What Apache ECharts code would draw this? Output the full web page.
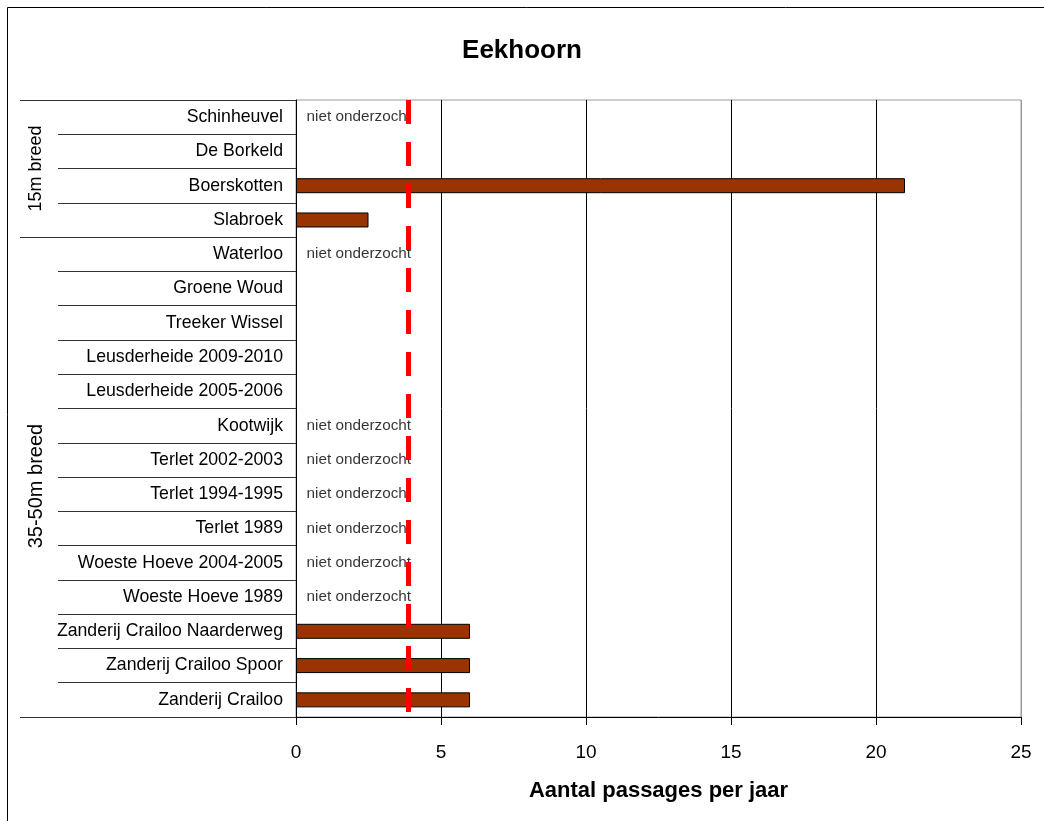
<!DOCTYPE html>
<html><head><meta charset="utf-8">
<script src="https://cdn.jsdelivr.net/npm/echarts@6/dist/echarts.min.js"></script>
<style>html,body{margin:0;padding:0;background:#fff}#c{width:1044px;height:821px}</style>
</head><body><div id="c"></div>
<script>
const categories = ['Schinheuvel','De Borkeld','Boerskotten','Slabroek','Waterloo','Groene Woud','Treeker Wissel','Leusderheide 2009-2010','Leusderheide 2005-2006','Kootwijk','Terlet 2002-2003','Terlet 1994-1995','Terlet 1989','Woeste Hoeve 2004-2005','Woeste Hoeve 1989','Zanderij Crailoo Naarderweg','Zanderij Crailoo Spoor','Zanderij Crailoo'];
const passages = [null,null,21,2.5,null,null,null,null,null,null,null,null,null,null,null,6,6,6];
const notStudied = ['Schinheuvel','Waterloo','Kootwijk','Terlet 2002-2003','Terlet 1994-1995','Terlet 1989','Woeste Hoeve 2004-2005','Woeste Hoeve 1989'];
const groups = [
  {name:'15m breed', first:'Schinheuvel', last:'Slabroek'},
  {name:'35-50m breed', first:'Waterloo', last:'Zanderij Crailoo'}
];
const threshold = 3.87;
const xMin = 0, xMax = 25, xStep = 5;
const noteText = 'niet onderzocht';
const titleText = 'Eekhoorn';
const xName = 'Aantal passages per jaar';

const FONT = '"Liberation Sans", Arial, sans-serif';
const groupStyle = [{size: 18, shift: 0}, {size: 20, shift: 9}];
const groupStarts = groups.map(g => categories.indexOf(g.first));

const chart = echarts.init(document.getElementById('c'), null, {renderer:'canvas'});
const option = {
  animation: false,
  backgroundColor: '#fff',
  title: {
    text: titleText, left: 'center', top: 33,
    textStyle: {fontFamily: FONT, fontSize: 26, fontWeight: 'bold', color: '#000'}
  },
  grid: {left: 296, right: 23, top: 100, bottom: 104, show: true, borderColor: '#999', borderWidth: 1, containLabel: false},
  xAxis: {
    type: 'value', min: xMin, max: xMax, interval: xStep,
    name: xName, nameLocation: 'middle', nameGap: 63,
    nameTextStyle: {fontFamily: FONT, fontSize: 22, fontWeight: 'bold', color: '#000', verticalAlign: 'top'},
    axisLine: {show: true, lineStyle: {color: '#000', width: 1}},
    axisTick: {show: true, length: 8, lineStyle: {color: '#000'}},
    axisLabel: {fontFamily: FONT, fontSize: 19, color: '#000', margin: 26},
    splitLine: {show: true, lineStyle: {color: ['#000','#000','#000','#000','#000','#999'], width: 1}}
  },
  yAxis: [
    {
      type: 'category', data: categories, inverse: true, position: 'left',
      axisLine: {show: true, lineStyle: {color: '#000', width: 1}},
      axisTick: {show: true, length: 238, lineStyle: {color: '#333'}},
      axisLabel: {fontFamily: FONT, fontSize: 17.7, color: '#000', margin: 13},
      splitLine: {show: false}
    },
    {
      type: 'category', data: categories, inverse: true, position: 'left',
      axisLine: {show: false},
      axisTick: {show: true, length: 276, lineStyle: {color: '#333'},
        interval: function (idx) { return groupStarts.indexOf(idx) >= 0; }},
      axisLabel: {show: false},
      splitLine: {show: false}
    }
  ],
  series: [
    {
      type: 'scatter', yAxisIndex: 0, z: 1, silent: true,
      data: notStudied.map(c => [0, c]),
      symbolSize: 1, itemStyle: {color: 'rgba(0,0,0,0)'},
      label: {show: true, position: 'right', distance: 10, formatter: noteText,
        fontFamily: FONT, fontSize: 15.3, color: '#000'}
    },
    {
      type: 'bar', yAxisIndex: 0, z: 3, data: passages, barWidth: 15,
      itemStyle: {color: '#993300', borderColor: '#000', borderWidth: 1},
      markLine: {
        silent: true, symbol: ['none','none'], label: {show: false},
        lineStyle: {color: '#ff0000', width: 5, type: [24, 18]},
        emphasis: {disabled: true},
        data: [{xAxis: threshold}]
      }
    }
  ]
};
chart.setOption(option);

const graphics = [
  {type: 'rect', shape: {x: 7.5, y: 7.5, width: 1200, height: 1000}, style: {fill: null, stroke: '#000', lineWidth: 1}, silent: true, z: 0}
];
groups.forEach((g, i) => {
  const y1 = chart.convertToPixel({yAxisIndex: 0}, g.first);
  const y2 = chart.convertToPixel({yAxisIndex: 0}, g.last);
  graphics.push({
    type: 'text', x: 36, y: (y1 + y2) / 2 + groupStyle[i].shift, rotation: Math.PI / 2,
    style: {text: g.name, font: groupStyle[i].size + 'px ' + FONT, fill: '#000', align: 'center', verticalAlign: 'middle'},
    silent: true
  });
});
chart.setOption({graphic: graphics});
</script></body></html>
